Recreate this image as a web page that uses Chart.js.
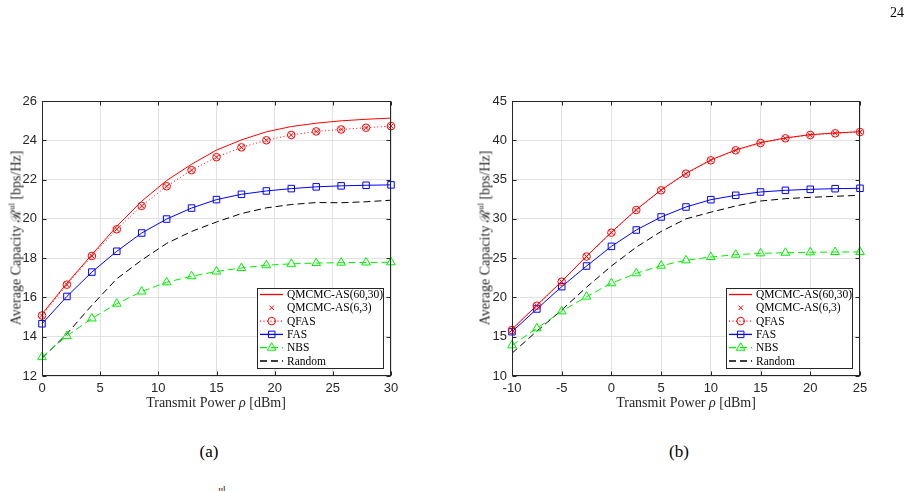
<!DOCTYPE html>
<html><head><meta charset="utf-8">
<script src="https://cdn.jsdelivr.net/npm/chart.js@4.4.0/dist/chart.umd.min.js"></script>
<style>
html,body{margin:0;padding:0;background:#fff;width:916px;height:491px;overflow:hidden;position:relative;font-family:"Liberation Serif","DejaVu Serif",serif;}
canvas{position:absolute;top:0;}
.t{position:absolute;white-space:nowrap;color:#262626;transform:translate(-50%,-50%);}
.ylab{transform:translate(-50%,-50%) rotate(-90deg);font-size:14px;}
.xlab{font-size:14px;}
.cap{font-size:17px;color:#000;}
sup{font-size:9px;vertical-align:6px;line-height:0;}
</style></head>
<body>
<canvas id="c1" width="458" height="420" style="left:0px;width:458px;height:420px"></canvas>
<canvas id="c2" width="458" height="420" style="left:458px;width:458px;height:420px"></canvas>
<div class="t" style="left:897px;top:13px;font-size:14px;color:#000">24</div>
<div class="t ylab" style="left:15px;top:238px">Average Capacity ℛ<sup>ul</sup> [bps/Hz]</div>
<div class="t ylab" style="left:484px;top:238px">Average Capacity ℛ<sup>ul</sup> [bps/Hz]</div>
<div class="t xlab" style="left:216px;top:403px">Transmit Power <i>ρ</i> [dBm]</div>
<div class="t xlab" style="left:686px;top:403px">Transmit Power <i>ρ</i> [dBm]</div>
<div class="t cap" style="left:209px;top:452px">(a)</div>
<div class="t cap" style="left:679px;top:452px">(b)</div>
<div class="t" style="left:222px;top:489px;font-size:9px;color:#000">ul</div>
<script>
// ---------- data: panel (a) ----------
const labels = ['QMCMC-AS(60,30)', 'QMCMC-AS(6,3)', 'QFAS', 'FAS', 'NBS', 'Random'];
const powerA = [0, 2.143, 4.286, 6.429, 8.571, 10.714, 12.857, 15, 17.143, 19.286, 21.429, 23.571, 25.714, 27.857, 30];
const qmcmc60A = [15.15, 16.72, 18.18, 19.62, 20.9, 21.95, 22.78, 23.5, 24.02, 24.43, 24.7, 24.87, 24.99, 25.07, 25.13];
const qmcmc6A  = [15.08, 16.65, 18.11, 19.47, 20.66, 21.66, 22.48, 23.14, 23.64, 24.0, 24.27, 24.45, 24.55, 24.64, 24.72];
const qfasA    = [15.08, 16.65, 18.11, 19.47, 20.66, 21.66, 22.48, 23.14, 23.64, 24.0, 24.27, 24.45, 24.55, 24.64, 24.72];
const fasA     = [14.66, 16.05, 17.29, 18.35, 19.28, 19.99, 20.55, 20.98, 21.25, 21.42, 21.54, 21.63, 21.68, 21.71, 21.73];
const nbsA     = [12.96, 14.04, 14.93, 15.68, 16.3, 16.77, 17.08, 17.32, 17.5, 17.64, 17.71, 17.75, 17.77, 17.78, 17.79];
const randA    = [12.9, 14.15, 15.6, 16.95, 17.9, 18.75, 19.36, 19.84, 20.27, 20.56, 20.73, 20.83, 20.82, 20.87, 20.95];
const xTicksA = [0, 30, 5];   // min, max, step
const yTicksA = [12, 26, 2];
// ---------- data: panel (b) ----------
const powerB = [-10, -7.5, -5, -2.5, 0, 2.5, 5, 7.5, 10, 12.5, 15, 17.5, 20, 22.5, 25];
const qmcmc60B = [15.95, 19.0, 22.05, 25.25, 28.3, 31.18, 33.68, 35.8, 37.5, 38.77, 39.7, 40.3, 40.72, 40.93, 41.1];
const qmcmc6B  = [15.85, 18.95, 22.0, 25.2, 28.24, 31.13, 33.63, 35.75, 37.45, 38.72, 39.65, 40.25, 40.67, 40.89, 41.05];
const qfasB    = [15.85, 18.95, 22.0, 25.2, 28.24, 31.13, 33.63, 35.75, 37.45, 38.72, 39.65, 40.25, 40.67, 40.89, 41.05];
const fasB     = [15.64, 18.53, 21.37, 24.0, 26.5, 28.58, 30.24, 31.51, 32.44, 33.0, 33.42, 33.63, 33.76, 33.84, 33.89];
const nbsB     = [13.9, 16.07, 18.23, 20.1, 21.8, 23.07, 24.04, 24.72, 25.14, 25.44, 25.61, 25.69, 25.74, 25.78, 25.78];
const randB    = [12.9, 15.7, 18.4, 21.3, 24.0, 26.4, 28.4, 30.0, 30.85, 31.64, 32.27, 32.57, 32.74, 32.87, 33.0];
const xTicksB = [-10, 25, 5];
const yTicksB = [10, 45, 5];

const RED = '#ff0000', BLUE = '#0000ff', GREEN = '#00ee00', BLACK = '#000000';
const DASH = [7, 4], DOT = [1, 2.5];
// legend sample styles: [color, dash or null(no line), marker, radius]
const legendStyle = [
  [RED, [], null, 0],
  [RED, null, 'crossRot', 3.2],
  [RED, DOT, 'circle', 3.8],
  [BLUE, [], 'rect', 4.6],
  [GREEN, DASH, 'triangle', 5],
  [BLACK, DASH, null, 0]
];

function pts(xs, ys) { return xs.map((x, i) => ({ x: x, y: ys[i] })); }

function datasets(xs, s) {
  const base = { borderWidth: 1, tension: 0, clip: false, pointBackgroundColor: 'rgba(0,0,0,0)', pointBorderWidth: 1, pointHoverRadius: 0 };
  return [
    Object.assign({}, base, { label: labels[0], data: pts(xs, s[0]), borderColor: RED, pointRadius: 0 }),
    Object.assign({}, base, { label: labels[1], data: pts(xs, s[1]), borderColor: RED, showLine: false, pointStyle: 'crossRot', pointRadius: 3.2, pointBorderColor: RED }),
    Object.assign({}, base, { label: labels[2], data: pts(xs, s[2]), borderColor: RED, borderDash: DOT, pointStyle: 'circle', pointRadius: 3.8, pointBorderColor: RED }),
    Object.assign({}, base, { label: labels[3], data: pts(xs, s[3]), borderColor: BLUE, pointStyle: 'rect', pointRadius: 4.6, pointBorderColor: BLUE }),
    Object.assign({}, base, { label: labels[4], data: pts(xs, s[4]), borderColor: GREEN, borderDash: DASH, pointStyle: 'triangle', pointRadius: 5, pointBorderColor: GREEN }),
    Object.assign({}, base, { label: labels[5], data: pts(xs, s[5]), borderColor: BLACK, borderDash: DASH, pointRadius: 0 })
  ];
}

function drawMarker(ctx, style, x, y, r, color) {
  ctx.save();
  ctx.setLineDash([]);
  ctx.strokeStyle = color; ctx.lineWidth = 1;
  ctx.beginPath();
  if (style === 'circle') { ctx.arc(x, y, r, 0, Math.PI * 2); }
  else if (style === 'rect') { const s = r * Math.SQRT1_2; ctx.rect(x - s, y - s, 2 * s, 2 * s); }
  else if (style === 'triangle') {
    const w = r * Math.sqrt(3) / 2;
    ctx.moveTo(x, y - r); ctx.lineTo(x + w, y + r / 2); ctx.lineTo(x - w, y + r / 2); ctx.closePath();
  }
  else if (style === 'crossRot') { const s = r * Math.SQRT1_2; ctx.moveTo(x - s, y - s); ctx.lineTo(x + s, y + s); ctx.moveTo(x + s, y - s); ctx.lineTo(x - s, y + s); }
  ctx.stroke();
  ctx.restore();
}

const framePlugin = {
  id: 'frame',
  afterDatasetsDraw(chart) {
    const { ctx, chartArea: a, scales } = chart;
    const L = Math.round(a.left) + 0.5, R = Math.round(a.right) - 0.5, T = Math.round(a.top) + 0.5, B = Math.round(a.bottom) - 0.5;
    ctx.save();
    ctx.strokeStyle = '#262626'; ctx.lineWidth = 1; ctx.setLineDash([]);
    ctx.strokeRect(L, T, R - L, B - T);
    ctx.beginPath();
    scales.x.ticks.forEach(t => {
      const p = Math.round(scales.x.getPixelForValue(t.value)) + 0.5;
      ctx.moveTo(p, B); ctx.lineTo(p, B - 4);
      ctx.moveTo(p, T); ctx.lineTo(p, T + 4);
    });
    scales.y.ticks.forEach(t => {
      const p = Math.round(scales.y.getPixelForValue(t.value)) + 0.5;
      ctx.moveTo(L, p); ctx.lineTo(L + 4, p);
      ctx.moveTo(R, p); ctx.lineTo(R - 4, p);
    });
    ctx.stroke();
    ctx.restore();
  },
  afterDraw(chart, args, opts) {
    const { ctx } = chart;
    const bx = opts.box;
    ctx.save();
    ctx.setLineDash([]);
    ctx.fillStyle = '#ffffff';
    ctx.fillRect(bx[0], bx[1], bx[2] - bx[0], bx[3] - bx[1]);
    ctx.strokeStyle = '#262626'; ctx.lineWidth = 1;
    ctx.strokeRect(bx[0] + 0.5, bx[1] + 0.5, bx[2] - bx[0] - 1, bx[3] - bx[1] - 1);
    ctx.font = '11.5px "Liberation Serif", "DejaVu Serif", serif';
    ctx.textBaseline = 'middle';
    labels.forEach((lab, i) => {
      const st = legendStyle[i];
      const y = bx[1] + 6.5 + i * 13.3;
      const x0 = bx[0] + 3, x1 = bx[0] + 26, xm = bx[0] + 14.7;
      if (st[1] !== null) {
        ctx.save();
        ctx.strokeStyle = st[0]; ctx.lineWidth = 1.3;
        ctx.setLineDash(st[1]);
        ctx.beginPath(); ctx.moveTo(x0, y); ctx.lineTo(x1, y); ctx.stroke();
        ctx.restore();
      }
      if (st[2]) drawMarker(ctx, st[2], xm, y, st[3], st[0]);
      ctx.fillStyle = '#000';
      ctx.fillText(lab, bx[0] + 30, y + 0.5);
    });
    ctx.restore();
  }
};

function makeChart(id, xs, series, xt, yt, yAxisW, padRight, box) {
  new Chart(document.getElementById(id), {
    type: 'line',
    data: { datasets: datasets(xs, series) },
    plugins: [framePlugin],
    options: {
      responsive: false, animation: false, devicePixelRatio: 1,
      layout: { padding: { left: 0, top: 101, right: padRight, bottom: 14 } },
      plugins: { legend: { display: false }, tooltip: { enabled: false }, frame: { box: box } },
      scales: {
        x: {
          type: 'linear', min: xt[0], max: xt[1],
          ticks: { stepSize: xt[2], padding: 5, color: '#262626', font: { family: '"Liberation Sans", Arial, sans-serif', size: 13 }, maxRotation: 0 },
          grid: { color: '#e2e2e2', drawTicks: false, lineWidth: 1 },
          border: { display: false },
          afterFit(s) { s.height = 30; }
        },
        y: {
          type: 'linear', min: yt[0], max: yt[1],
          ticks: { stepSize: yt[2], padding: 5, color: '#262626', font: { family: '"Liberation Sans", Arial, sans-serif', size: 13 } },
          grid: { color: '#e2e2e2', drawTicks: false, lineWidth: 1 },
          border: { display: false },
          afterFit(s) { s.width = yAxisW; }
        }
      }
    }
  });
}

makeChart('c1', powerA, [qmcmc60A, qmcmc6A, qfasA, fasA, nbsA, randA], xTicksA, yTicksA, 42, 67, [257, 288, 384, 369]);
makeChart('c2', powerB, [qmcmc60B, qmcmc6B, qfasB, fasB, nbsB, randB], xTicksB, yTicksB, 54, 56, [268, 288, 395, 369]);
</script>
</body></html>
